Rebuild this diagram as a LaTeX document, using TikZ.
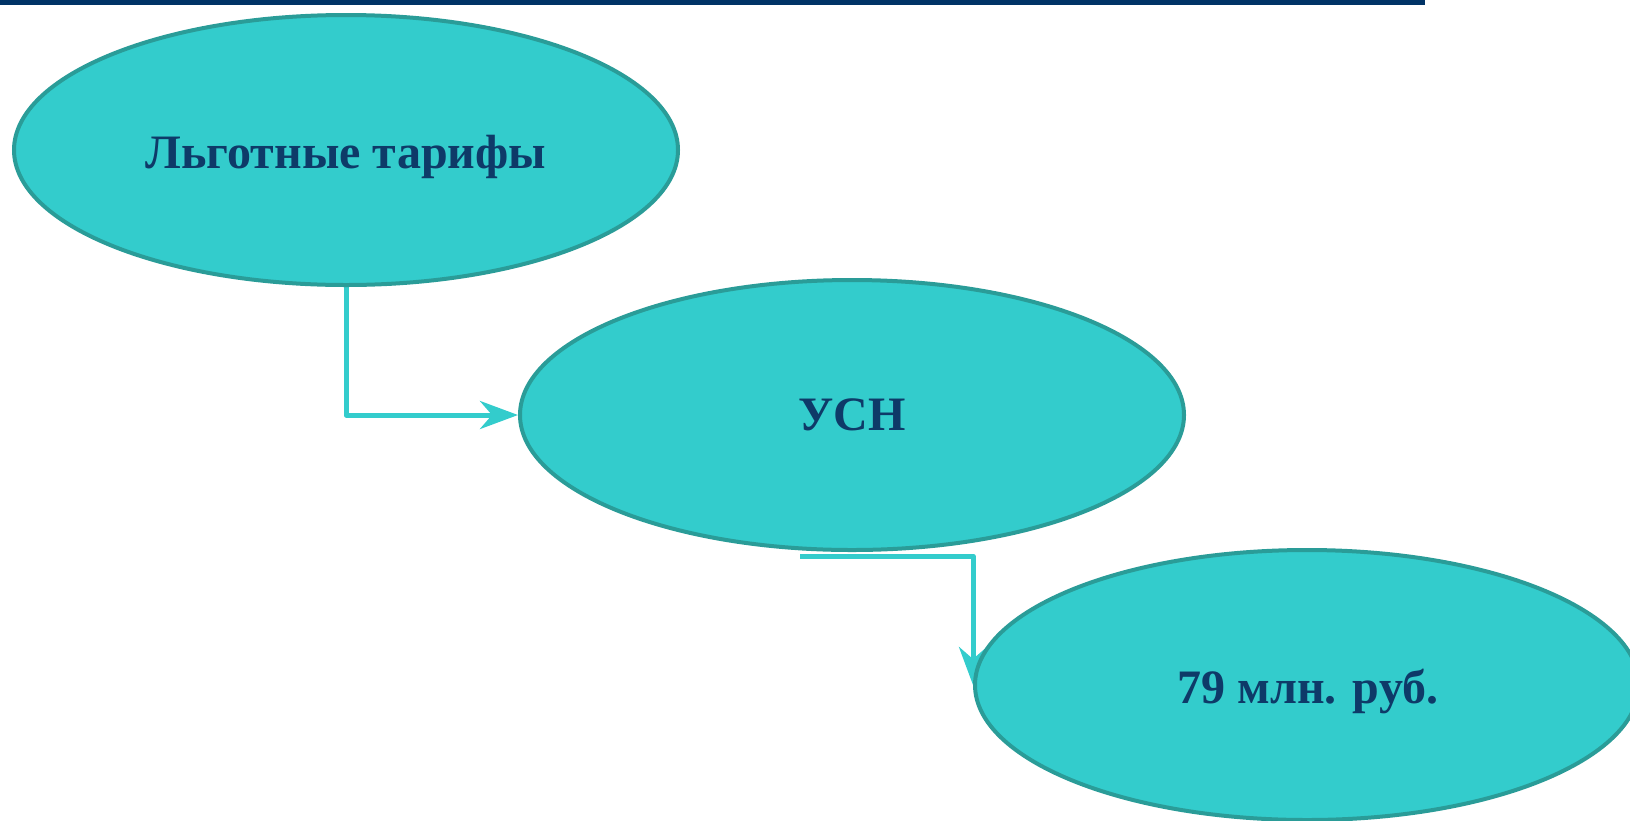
\documentclass[tikz,border=0pt]{standalone}
\usepackage{fontspec}
\setmainfont{Liberation Serif}
\usetikzlibrary{shapes.geometric,arrows.meta,calc}
\pgfdeclarelayer{bg}
\pgfsetlayers{bg,main}
\definecolor{fillteal}{HTML}{33CCCC}
\definecolor{edgeteal}{HTML}{2A9C98}
\definecolor{navy}{HTML}{003366}
\definecolor{txt}{HTML}{0E3A68}
\tikzset{
  oval/.style={ellipse, draw=edgeteal, line width=4pt, fill=fillteal,
    minimum width=664pt, minimum height=270pt, inner sep=0pt,
    font=\fontsize{48}{52}\selectfont\bfseries, text=txt},
  low/.style={text height=37pt, text depth=0pt},
  link/.style={draw=fillteal, line width=5pt, line join=round,
    -{Stealth[length=38pt,width=28pt,inset=12pt]}}
}
\begin{document}
\begin{tikzpicture}[x=1pt,y=-1pt]
\useasboundingbox (0,0) rectangle (1630,820);
\fill[navy] (0,0) rectangle (1425,5);
\node[oval,low] (l) at (346,150) {Льготные тарифы};
\node[oval] (u) at (852,415) {УСН};
\node[oval,low] (r) at (1307,685) {\hspace*{2pt}79 млн. руб.};
\coordinate (c2) at (800,556);
\begin{pgfonlayer}{bg}
\draw[link] (l.south) |- (u.west);
\draw[link] (c2) -| (r.west);
\end{pgfonlayer}
\end{tikzpicture}
\end{document}
